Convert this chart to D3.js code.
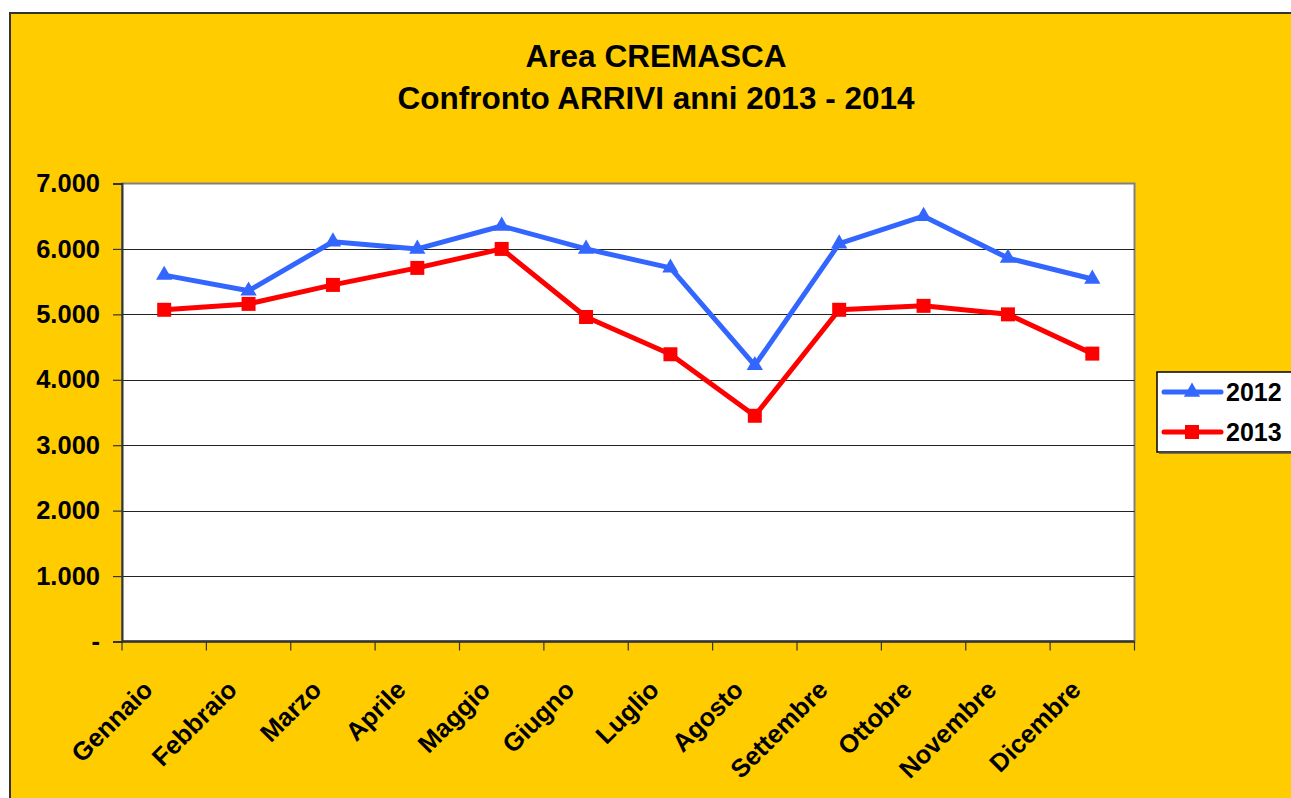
<!DOCTYPE html>
<html>
<head>
<meta charset="utf-8">
<script src="https://cdn.jsdelivr.net/npm/d3@7"></script>
<style>
  html, body { margin: 0; padding: 0; background: #ffffff; }
  svg { display: block; font-family: "Liberation Sans", Arial, sans-serif; font-weight: bold; }
</style>
</head>
<body>
<svg id="chart" width="1291" height="798"></svg>
<script>
// Months on the category axis
const months = ["Gennaio", "Febbraio", "Marzo", "Aprile", "Maggio", "Giugno",
                "Luglio", "Agosto", "Settembre", "Ottobre", "Novembre", "Dicembre"];

// Monthly arrivals per year
const arrivals2012 = [5600, 5360, 6110, 6000, 6350, 6000, 5710, 4220, 6080, 6500, 5860, 5540];
const arrivals2013 = [5070, 5160, 5450, 5710, 6000, 4960, 4390, 3450, 5070, 5130, 5000, 4400];

// Value axis ticks and labels
const yTicks = [0, 1000, 2000, 3000, 4000, 5000, 6000, 7000];
const yTickLabels = ["-", "1.000", "2.000", "3.000", "4.000", "5.000", "6.000", "7.000"];

const titleLines = ["Area CREMASCA", "Confronto ARRIVI anni 2013 - 2014"];

const series = [
  { name: "2012", values: arrivals2012, color: "#3366FF", symbol: d3.symbolTriangle, size: 115 },
  { name: "2013", values: arrivals2013, color: "#FF0000", symbol: d3.symbolSquare, size: 196 }
];

const svg = d3.select("#chart");

// chart background
svg.append("rect")
  .attr("x", 10).attr("y", 13)
  .attr("width", 1300).attr("height", 800)
  .attr("fill", "#FFCC00")
  .attr("stroke", "#333333").attr("stroke-width", 2);

// title
svg.append("g").selectAll("text")
  .data(titleLines)
  .join("text")
  .attr("x", 656)
  .attr("y", (d, i) => 67 + i * 42)
  .attr("text-anchor", "middle")
  .attr("font-size", 31.5)
  .attr("fill", "#000")
  .text(d => d);

const plot = { left: 122, top: 183.5, right: 1134.5, bottom: 641.5 };

const x = d3.scaleBand()
  .domain(months)
  .range([plot.left, plot.right])
  .padding(0);

const y = d3.scaleLinear()
  .domain([0, 7000])
  .range([plot.bottom, plot.top]);

// plot area
svg.append("rect")
  .attr("x", plot.left).attr("y", plot.top)
  .attr("width", plot.right - plot.left).attr("height", plot.bottom - plot.top)
  .attr("fill", "#ffffff")
  .attr("stroke", "#808080").attr("stroke-width", 2);

// horizontal gridlines
svg.append("g").selectAll("line")
  .data(yTicks.filter(t => t > 0 && t < 7000))
  .join("line")
  .attr("x1", plot.left).attr("x2", plot.right)
  .attr("y1", d => Math.round(y(d)) + 0.5).attr("y2", d => Math.round(y(d)) + 0.5)
  .attr("stroke", "#222").attr("stroke-width", 1);

// value axis
const yAxis = d3.axisLeft(y)
  .tickValues(yTicks)
  .tickSize(9)
  .tickPadding(13)
  .tickFormat((d, i) => yTickLabels[i]);

const gy = svg.append("g")
  .attr("transform", `translate(${plot.left},0)`)
  .call(yAxis);
gy.select(".domain").attr("stroke", "#333").attr("stroke-width", 2);
gy.selectAll(".tick line").attr("stroke", "#333").attr("stroke-width", 1.2);
gy.selectAll(".tick text")
  .attr("font-size", 25.5)
  .attr("font-family", "'Liberation Sans', Arial, sans-serif")
  .attr("font-weight", "bold")
  .attr("fill", "#000");

// category axis: ticks at category boundaries
const boundaries = d3.range(months.length + 1).map(i => plot.left + i * x.bandwidth());
const gx = svg.append("g");
gx.append("line")
  .attr("x1", plot.left).attr("x2", plot.right)
  .attr("y1", plot.bottom).attr("y2", plot.bottom)
  .attr("stroke", "#333").attr("stroke-width", 2.5);
gx.selectAll("line.tick")
  .data(boundaries)
  .join("line")
  .attr("class", "tick")
  .attr("x1", d => d).attr("x2", d => d)
  .attr("y1", plot.bottom).attr("y2", plot.bottom + 9)
  .attr("stroke", "#333").attr("stroke-width", 1.2);

gx.selectAll("text")
  .data(months)
  .join("text")
  .attr("transform", d => {
    const cx = x(d) + x.bandwidth() / 2;
    return `translate(${cx - 10},${plot.bottom + 50}) rotate(-45)`;
  })
  .attr("text-anchor", "end")
  .attr("font-size", 25.5)
  .attr("fill", "#000")
  .text(d => d);

// series lines and markers
const line = d3.line()
  .x((d, i) => x(months[i]) + x.bandwidth() / 2)
  .y(d => y(d));

series.forEach(s => {
  svg.append("path")
    .datum(s.values)
    .attr("d", line)
    .attr("fill", "none")
    .attr("stroke", s.color)
    .attr("stroke-width", 5)
    .attr("stroke-linejoin", "round");

  svg.append("g").selectAll("path")
    .data(s.values)
    .join("path")
    .attr("transform", (d, i) => `translate(${x(months[i]) + x.bandwidth() / 2},${y(d)})`)
    .attr("d", d3.symbol().type(s.symbol).size(s.size))
    .attr("fill", s.color);
});

// legend
const legend = svg.append("g");
legend.append("rect")
  .attr("x", 1157).attr("y", 372)
  .attr("width", 150).attr("height", 80)
  .attr("fill", "#ffffff")
  .attr("stroke", "#000").attr("stroke-width", 1.5);
legend.append("line")
  .attr("x1", 1159).attr("x2", 1300)
  .attr("y1", 453).attr("y2", 453)
  .attr("stroke", "#555").attr("stroke-width", 1.5);

const items = legend.selectAll("g.item")
  .data(series)
  .join("g")
  .attr("class", "item")
  .attr("transform", (d, i) => `translate(0,${392 + i * 40})`);
items.append("line")
  .attr("x1", 1164).attr("x2", 1221)
  .attr("y1", 0).attr("y2", 0)
  .attr("stroke", d => d.color)
  .attr("stroke-width", 5)
  .attr("stroke-linecap", "round");
items.append("path")
  .attr("transform", "translate(1192,0)")
  .attr("d", d => d3.symbol().type(d.symbol).size(d.size)())
  .attr("fill", d => d.color);
items.append("text")
  .attr("x", 1226).attr("y", 9)
  .attr("font-size", 25)
  .attr("fill", "#000")
  .text(d => d.name);
</script>
</body>
</html>
